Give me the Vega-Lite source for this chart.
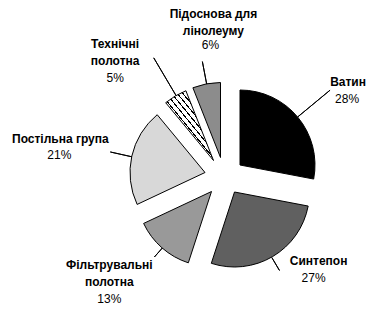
{
  "$schema": "https://vega.github.io/schema/vega-lite/v6.json",
  "width": 333,
  "height": 275,
  "padding": {"left": 58, "top": 40, "right": 0, "bottom": 0},
  "autosize": "none",
  "background": "white",
  "config": {
    "view": {"stroke": null},
    "text": {"font": "Liberation Sans", "fontSize": 12, "color": "black"}
  },
  "data": {
    "values": [
      {"idx": 1, "name": "Ватин", "share": 0.28, "label": "Ватин"},
      {"idx": 2, "name": "Синтепон", "share": 0.27, "label": "Синтепон"},
      {"idx": 3, "name": "Фільтрувальні полотна", "share": 0.13, "label": "Фільтрувальні\nполотна"},
      {"idx": 4, "name": "Постільна група", "share": 0.21, "label": "Постільна група"},
      {"idx": 5, "name": "Технічні полотна", "share": 0.05, "label": "Технічні\nполотна"},
      {"idx": 6, "name": "Підоснова для лінолеуму", "share": 0.06, "label": "Підоснова для\nлінолеуму"}
    ]
  },
  "encoding": {
    "theta": {"field": "share", "type": "quantitative", "stack": true, "scale": {"domain": [0, 1]}},
    "order": {"field": "idx", "type": "quantitative"},
    "detail": {"field": "name", "type": "nominal"}
  },
  "layer": [
    {
      "encoding": {"opacity": {"condition": {"test": "datum.idx === 1", "value": 1}, "value": 0}},
      "layer": [
        {"mark": {"type": "arc", "outerRadius": 75, "xOffset": 15.5, "yOffset": -12.5, "fill": "#000000", "stroke": "black", "strokeWidth": 1}},
        {"mark": {"type": "arc", "innerRadius": 95, "outerRadius": 137, "padAngle": 3, "fillOpacity": 0, "stroke": "black", "strokeWidth": 1}},
        {"mark": {"type": "text", "radius": 150, "dx": 8, "dy": 4, "fontWeight": "bold", "align": "center", "baseline": "alphabetic", "lineBreak": "\n", "lineHeight": 17}, "encoding": {"text": {"field": "label", "type": "nominal"}}},
        {"mark": {"type": "text", "radius": 150, "dx": 7, "dy": 21, "align": "center", "baseline": "alphabetic"}, "encoding": {"text": {"field": "share", "type": "quantitative", "format": ".0%"}}}
      ]
    },
    {
      "encoding": {"opacity": {"condition": {"test": "datum.idx === 2", "value": 1}, "value": 0}},
      "layer": [
        {"mark": {"type": "arc", "outerRadius": 75, "xOffset": 10, "yOffset": 14.5, "fill": "#606060", "stroke": "black", "strokeWidth": 1}},
        {"mark": {"type": "arc", "innerRadius": 93, "outerRadius": 108, "padAngle": 3, "fillOpacity": 0, "stroke": "black", "strokeWidth": 1}},
        {"mark": {"type": "text", "radius": 120, "dx": 33, "dy": -16, "fontWeight": "bold", "align": "center", "baseline": "alphabetic", "lineBreak": "\n", "lineHeight": 17}, "encoding": {"text": {"field": "label", "type": "nominal"}}},
        {"mark": {"type": "text", "radius": 120, "dx": 28, "dy": 1, "align": "center", "baseline": "alphabetic"}, "encoding": {"text": {"field": "share", "type": "quantitative", "format": ".0%"}}}
      ]
    },
    {
      "encoding": {"opacity": {"condition": {"test": "datum.idx === 3", "value": 1}, "value": 0}},
      "layer": [
        {"mark": {"type": "arc", "outerRadius": 75, "xOffset": -13, "yOffset": 14, "fill": "#999999", "stroke": "black", "strokeWidth": 1}},
        {"mark": {"type": "arc", "innerRadius": 94, "outerRadius": 106, "padAngle": 3, "fillOpacity": 0, "stroke": "black", "strokeWidth": 1}},
        {"mark": {"type": "text", "radius": 150, "dx": -16, "dy": -21, "fontWeight": "bold", "align": "center", "baseline": "alphabetic", "lineBreak": "\n", "lineHeight": 17}, "encoding": {"text": {"field": "label", "type": "nominal"}}},
        {"mark": {"type": "text", "radius": 150, "dx": -16, "dy": 13, "align": "center", "baseline": "alphabetic"}, "encoding": {"text": {"field": "share", "type": "quantitative", "format": ".0%"}}}
      ]
    },
    {
      "encoding": {"opacity": {"condition": {"test": "datum.idx === 4", "value": 1}, "value": 0}},
      "layer": [
        {"mark": {"type": "arc", "outerRadius": 75, "xOffset": -19.5, "yOffset": -5, "fill": "#d8d8d8", "stroke": "black", "strokeWidth": 1}},
        {"mark": {"type": "arc", "innerRadius": 95, "outerRadius": 117, "padAngle": 3, "fillOpacity": 0, "stroke": "black", "strokeWidth": 1}},
        {"mark": {"type": "text", "radius": 160, "dx": -8, "dy": 0, "fontWeight": "bold", "align": "center", "baseline": "alphabetic", "lineBreak": "\n", "lineHeight": 17}, "encoding": {"text": {"field": "label", "type": "nominal"}}},
        {"mark": {"type": "text", "radius": 160, "dx": -9, "dy": 16, "align": "center", "baseline": "alphabetic"}, "encoding": {"text": {"field": "share", "type": "quantitative", "format": ".0%"}}}
      ]
    },
    {
      "encoding": {"opacity": {"condition": {"test": "datum.idx === 5", "value": 1}, "value": 0}},
      "layer": [
        {"mark": {"type": "arc", "outerRadius": 75, "xOffset": -11, "yOffset": -17, "stroke": "black", "strokeWidth": 1,
          "fill": {"gradient": "linear", "x1": 0, "y1": 1, "x2": 0.82, "y2": 0.02, "stops": [
            {"offset": 0, "color": "white"}, {"offset": 0.0441, "color": "white"}, {"offset": 0.0441, "color": "black"}, {"offset": 0.0588, "color": "black"},
            {"offset": 0.0588, "color": "white"}, {"offset": 0.1029, "color": "white"}, {"offset": 0.1029, "color": "black"}, {"offset": 0.1176, "color": "black"},
            {"offset": 0.1176, "color": "white"}, {"offset": 0.1618, "color": "white"}, {"offset": 0.1618, "color": "black"}, {"offset": 0.1765, "color": "black"},
            {"offset": 0.1765, "color": "white"}, {"offset": 0.2206, "color": "white"}, {"offset": 0.2206, "color": "black"}, {"offset": 0.2353, "color": "black"},
            {"offset": 0.2353, "color": "white"}, {"offset": 0.2794, "color": "white"}, {"offset": 0.2794, "color": "black"}, {"offset": 0.2941, "color": "black"},
            {"offset": 0.2941, "color": "white"}, {"offset": 0.3382, "color": "white"}, {"offset": 0.3382, "color": "black"}, {"offset": 0.3529, "color": "black"},
            {"offset": 0.3529, "color": "white"}, {"offset": 0.3971, "color": "white"}, {"offset": 0.3971, "color": "black"}, {"offset": 0.4118, "color": "black"},
            {"offset": 0.4118, "color": "white"}, {"offset": 0.4559, "color": "white"}, {"offset": 0.4559, "color": "black"}, {"offset": 0.4706, "color": "black"},
            {"offset": 0.4706, "color": "white"}, {"offset": 0.5147, "color": "white"}, {"offset": 0.5147, "color": "black"}, {"offset": 0.5294, "color": "black"},
            {"offset": 0.5294, "color": "white"}, {"offset": 0.5735, "color": "white"}, {"offset": 0.5735, "color": "black"}, {"offset": 0.5882, "color": "black"},
            {"offset": 0.5882, "color": "white"}, {"offset": 0.6324, "color": "white"}, {"offset": 0.6324, "color": "black"}, {"offset": 0.6471, "color": "black"},
            {"offset": 0.6471, "color": "white"}, {"offset": 0.6912, "color": "white"}, {"offset": 0.6912, "color": "black"}, {"offset": 0.7059, "color": "black"},
            {"offset": 0.7059, "color": "white"}, {"offset": 0.75, "color": "white"}, {"offset": 0.75, "color": "black"}, {"offset": 0.7647, "color": "black"},
            {"offset": 0.7647, "color": "white"}, {"offset": 0.8088, "color": "white"}, {"offset": 0.8088, "color": "black"}, {"offset": 0.8235, "color": "black"},
            {"offset": 0.8235, "color": "white"}, {"offset": 0.8676, "color": "white"}, {"offset": 0.8676, "color": "black"}, {"offset": 0.8824, "color": "black"},
            {"offset": 0.8824, "color": "white"}, {"offset": 0.9265, "color": "white"}, {"offset": 0.9265, "color": "black"}, {"offset": 0.9412, "color": "black"},
            {"offset": 0.9412, "color": "white"}, {"offset": 0.9853, "color": "white"}, {"offset": 0.9853, "color": "black"}, {"offset": 1, "color": "black"}
          ]}}},
        {"mark": {"type": "arc", "innerRadius": 95, "outerRadius": 139, "padAngle": 3, "fillOpacity": 0, "stroke": "black", "strokeWidth": 1}},
        {"mark": {"type": "text", "radius": 150, "dx": -33, "dy": 0, "fontWeight": "bold", "align": "center", "baseline": "alphabetic", "lineBreak": "\n", "lineHeight": 17}, "encoding": {"text": {"field": "label", "type": "nominal"}}},
        {"mark": {"type": "text", "radius": 150, "dx": -33, "dy": 34, "align": "center", "baseline": "alphabetic"}, "encoding": {"text": {"field": "share", "type": "quantitative", "format": ".0%"}}}
      ]
    },
    {
      "encoding": {"opacity": {"condition": {"test": "datum.idx === 6", "value": 1}, "value": 0}},
      "layer": [
        {"mark": {"type": "arc", "outerRadius": 75, "xOffset": -4, "yOffset": -20, "fill": "#8c8c8c", "stroke": "black", "strokeWidth": 1}},
        {"mark": {"type": "arc", "innerRadius": 95, "outerRadius": 118, "padAngle": 3, "fillOpacity": 0, "stroke": "black", "strokeWidth": 1}},
        {"mark": {"type": "text", "radius": 150, "dx": 17, "dy": -12, "fontWeight": "bold", "align": "center", "baseline": "alphabetic", "lineBreak": "\n", "lineHeight": 17}, "encoding": {"text": {"field": "label", "type": "nominal"}}},
        {"mark": {"type": "text", "radius": 150, "dx": 14, "dy": 19, "align": "center", "baseline": "alphabetic"}, "encoding": {"text": {"field": "share", "type": "quantitative", "format": ".0%"}}}
      ]
    }
  ]
}
